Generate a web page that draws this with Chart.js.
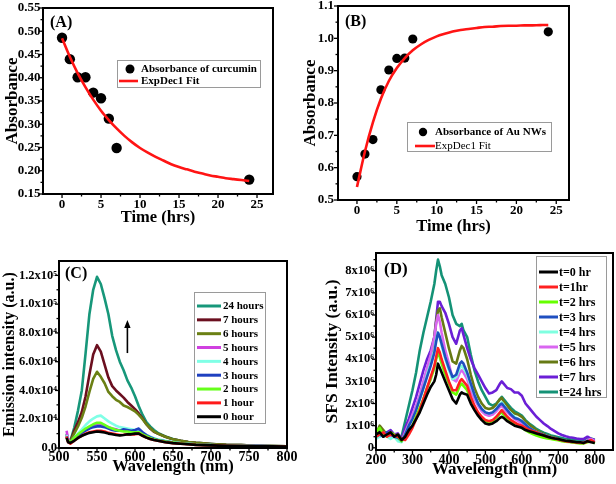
<!DOCTYPE html>
<html><head><meta charset="utf-8">
<script src="https://cdn.jsdelivr.net/npm/chart.js@4.4.1/dist/chart.umd.min.js"></script>
<style>
html,body{margin:0;padding:0;background:#fff;width:616px;height:484px;overflow:hidden;position:relative}
canvas{position:absolute}
</style></head><body>
<canvas id="cA"></canvas><canvas id="cB"></canvas><canvas id="cC"></canvas><canvas id="cD"></canvas>
<script>
// ---------------- DATA ----------------
// Panel A / B : absorbance vs time
const hrsPoints   = [0, 1, 2, 3, 4, 5, 6, 7, 24];
const curcuminAbs = [0.486, 0.440, 0.401, 0.401, 0.368, 0.356, 0.312, 0.249, 0.181];
const auNWsAbs    = [0.572, 0.642, 0.687, 0.841, 0.902, 0.938, 0.939, 0.998, 1.020];
const fitHrs      = [0,1,2,3,4,5,6,7,8,9,10,11,12,13,14,15,16,17,18,19,20,21,22,23,24];
const curcuminFit = [0.485,0.445,0.410,0.380,0.353,0.329,0.309,0.291,0.275,0.261,0.249,0.239,0.230,0.222,0.214,0.208,0.203,0.198,0.194,0.190,0.187,0.184,0.182,0.180,0.178];
const auNWsFit    = [0.540,0.650,0.740,0.813,0.868,0.908,0.939,0.963,0.981,0.995,1.006,1.014,1.021,1.026,1.029,1.032,1.035,1.036,1.038,1.039,1.039,1.040,1.040,1.041,1.041];

// Panel C : emission (units of 1e4)
const wavelengthC = [510,512,515,520,525,530,535,540,545,550,555,560,565,570,575,580,585,590,595,600,605,610,615,620,625,630,640,650,660,670,680,690,700,720,740,760,780,800];
const emission0h  = [0.7,0.4,0.35, 0.5,0.7,0.85,0.95,1.05,1.1,1.15,1.12,1.08,1.0,0.95,0.9,0.88,0.9,0.95,0.95,1.0,1.0,0.85,0.72,0.62,0.55,0.5, 0.4,0.34,0.3,0.26,0.22,0.2,0.18, 0.15,0.13,0.12,0.11,0.1];
const emission1h  = [0.8,0.4,0.3, 0.5,0.7,0.85,1.0,1.1,1.15,1.2,1.2,1.15,1.05,1.0,0.95,0.9,0.92,0.95,0.95,0.95,1.0,0.85,0.72,0.62,0.55,0.5, 0.4,0.34,0.3,0.26,0.22,0.2,0.18, 0.15,0.13,0.12,0.11,0.1];
const emission2h  = [0.7,0.5,0.4, 0.7,0.95,1.15,1.35,1.5,1.65,1.75,1.75,1.6,1.45,1.35,1.25,1.2,1.15,1.15,1.1,1.1,1.1,0.95,0.82,0.7,0.6,0.54, 0.45,0.38,0.32,0.28,0.24,0.22,0.2, 0.16,0.14,0.12,0.11,0.1];
const emission3h  = [0.8,0.5,0.4, 0.65,0.85,1.05,1.2,1.35,1.45,1.5,1.5,1.45,1.35,1.25,1.2,1.2,1.3,1.25,1.2,1.25,1.35,1.1,0.9,0.75,0.64,0.56, 0.46,0.38,0.32,0.28,0.24,0.22,0.2, 0.16,0.14,0.13,0.12,0.1];
const emission4h  = [0.9,0.5,0.4, 0.7,1.0,1.3,1.6,1.85,2.05,2.2,2.25,2.05,1.85,1.7,1.55,1.45,1.4,1.35,1.3,1.25,1.25,1.05,0.9,0.78,0.68,0.6, 0.5,0.42,0.35,0.3,0.26,0.23,0.2, 0.17,0.15,0.14,0.12,0.1];
const emission5h  = [1.2,0.6,0.4, 0.6,0.85,1.05,1.25,1.4,1.5,1.6,1.65,1.55,1.45,1.35,1.3,1.2,1.2,1.25,1.2,1.15,1.2,1.0,0.85,0.72,0.62,0.55, 0.45,0.38,0.32,0.28,0.25,0.22,0.2, 0.17,0.15,0.13,0.12,0.1];
const emission6h  = [0.8,0.5,0.45, 1.0,1.5,2.1,2.9,3.9,4.8,5.3,4.95,4.5,3.9,3.6,3.35,3.2,2.95,2.85,2.7,2.55,2.3,2.0,1.65,1.38,1.15,1.0, 0.78,0.6,0.5,0.42,0.36,0.32,0.28, 0.22,0.2,0.16,0.14,0.12];
const emission7h  = [0.9,0.5,0.45, 1.2,1.8,2.5,3.6,5.1,6.5,7.15,6.7,5.8,4.9,4.3,4.0,3.75,3.5,3.2,2.95,2.7,2.4,2.05,1.65,1.35,1.12,1.0, 0.78,0.6,0.5,0.42,0.36,0.32,0.28, 0.22,0.2,0.16,0.14,0.12];
const emission24h = [1.0,0.6,0.5, 1.4,2.6,4.0,6.6,9.3,11.0,11.9,11.4,10.4,9.3,7.8,6.8,6.0,5.4,4.7,4.2,3.6,2.9,2.3,1.8,1.5,1.25,1.05, 0.8,0.62,0.5,0.42,0.36,0.32,0.28, 0.22,0.2,0.16,0.14,0.12];
const labelsC = ['0 hour','1 hour','2 hours','3 hours','4 hours','5 hours','6 hours','7 hours','24 hours'];
const cYTicks = [0,2,4,6,8,10,12];
const cYLabels = ['0.0','2.0x10\u2074','4.0x10\u2074','6.0x10\u2074','8.0x10\u2074','1.0x10\u2075','1.2x10\u2075'];
const cXTicks = [500,550,600,650,700,750,800];

// Panel D : SFS intensity (units of 1e6)
const wavelengthD = [200,210,220,230,240,250,260,270,280,290,300,310,320,330,340,350,360, 365,370,375,380, 390,400,410,420,430, 435,440, 450,460,470,480,490,500,510,520,530,540, 545, 550,560,570,580,590,600,610,620,630,640,650,660,670,680,690,700,710,720,730,740,750,760,770,780,790,800];
const sfs0  = [0.6,0.7,0.5,0.6,0.7,0.5,0.6,0.35,0.5,0.8,1.0,1.3,1.6,2.0,2.4,2.75,3.0, 3.3,3.8,3.6,3.4, 3.0,2.6,2.2,2.0,2.4, 2.5,2.45, 2.4,2.0,1.7,1.45,1.25,1.1,1.05,1.1,1.2,1.35, 1.4, 1.35,1.2,1.1,1.0,0.95,0.9,0.8,0.75,0.7,0.65,0.6,0.55,0.5,0.45,0.42,0.4,0.35,0.32,0.3,0.28,0.25,0.25,0.22,0.3,0.25,0.22];
const sfs1  = [0.5,0.6,0.7,0.5,0.6,0.55,0.5,0.4,0.35,0.6,0.9,1.3,1.7,2.2,2.7,3.2,3.7, 4.1,4.5,4.3,4.0, 3.5,3.0,2.6,2.6,3.0, 3.1,3.0, 2.8,2.3,1.9,1.6,1.4,1.25,1.2,1.25,1.4,1.6, 1.7, 1.6,1.4,1.25,1.15,1.05,1.0,0.9,0.8,0.75,0.7,0.62,0.56,0.5,0.45,0.42,0.38,0.34,0.3,0.28,0.26,0.24,0.23,0.22,0.28,0.35,0.25];
const sfs2  = [0.7,0.9,0.6,0.5,0.7,0.6,0.5,0.3,0.45,0.7,1.0,1.4,1.8,2.2,2.7,3.1,3.6, 4.0,4.3,4.1,3.8, 3.3,2.9,2.5,2.4,2.8, 2.9,2.8, 2.6,2.2,1.8,1.5,1.3,1.2,1.15,1.2,1.35,1.55, 1.6, 1.5,1.3,1.2,1.1,1.0,0.9,0.8,0.7,0.62,0.55,0.5,0.45,0.42,0.4,0.36,0.34,0.3,0.28,0.26,0.24,0.22,0.2,0.2,0.25,0.3,0.2];
const sfs3  = [0.5,0.6,0.5,0.7,0.6,0.5,0.45,0.3,0.6,1.0,1.3,1.7,2.2,2.7,3.2,3.7,4.3, 4.8,5.2,5.0,4.7, 4.1,3.6,3.2,3.3,3.8, 3.9,3.8, 3.4,2.9,2.4,2.0,1.75,1.6,1.55,1.6,1.75,1.95, 2.0, 1.9,1.7,1.5,1.35,1.3,1.2,1.05,0.9,0.8,0.72,0.65,0.58,0.52,0.46,0.42,0.38,0.34,0.3,0.28,0.26,0.25,0.24,0.23,0.3,0.3,0.25];
const sfs4  = [0.4,0.5,0.6,0.5,0.4,0.5,0.3,0.25,0.6,1.0,1.3,1.7,2.2,2.7,3.3,3.8,4.4, 4.9,5.2,5.0,4.6, 4.0,3.5,3.1,3.2,3.6, 3.7,3.6, 3.3,2.8,2.4,2.0,1.75,1.6,1.55,1.6,1.75,2.0, 2.05, 1.95,1.7,1.55,1.4,1.3,1.2,1.05,0.9,0.8,0.72,0.65,0.58,0.52,0.46,0.42,0.38,0.34,0.3,0.28,0.26,0.24,0.24,0.22,0.28,0.3,0.24];
const sfs5  = [0.6,0.5,0.7,0.6,0.5,0.6,0.5,0.3,0.7,1.1,1.5,1.9,2.4,3.0,3.6,4.2,5.0, 5.6,6.0,5.7,5.2, 4.4,3.8,3.1,3.0,3.4, 3.5,3.4, 3.1,2.6,2.2,1.9,1.65,1.5,1.45,1.5,1.65,1.85, 1.9, 1.8,1.6,1.45,1.3,1.2,1.1,0.95,0.85,0.75,0.68,0.6,0.55,0.5,0.45,0.4,0.36,0.32,0.3,0.28,0.25,0.24,0.22,0.22,0.35,0.4,0.3];
const sfs6  = [0.6,1.0,0.8,0.6,0.7,0.5,0.6,0.35,0.7,1.1,1.4,1.8,2.3,2.9,3.5,4.1,5.0, 5.7,6.2,6.3,5.9, 5.2,4.5,3.9,3.8,4.4, 4.6,4.5, 4.0,3.3,2.7,2.3,2.0,1.8,1.75,1.8,1.95,2.2, 2.25, 2.1,1.9,1.7,1.55,1.5,1.4,1.2,1.05,0.92,0.8,0.7,0.62,0.55,0.5,0.45,0.4,0.36,0.32,0.3,0.27,0.25,0.24,0.23,0.3,0.28,0.25];
const sfs7  = [0.7,0.8,0.6,0.7,0.8,0.6,0.65,0.4,0.9,1.3,1.8,2.3,2.9,3.5,4.0,4.4,5.0, 5.8,6.6,6.6,6.4, 6.1,5.6,5.0,4.7,5.3, 5.4,5.1, 4.5,4.0,3.6,3.3,3.0,2.7,2.45,2.5,2.6,2.9, 3.0, 2.9,2.7,2.65,2.5,2.5,2.35,2.0,1.8,1.6,1.4,1.25,1.1,0.98,0.85,0.75,0.65,0.58,0.52,0.48,0.45,0.42,0.4,0.4,0.5,0.4,0.35];
const sfs24 = [0.5,0.6,0.5,0.6,0.5,0.6,0.55,0.5,1.2,1.9,2.6,3.4,4.4,5.2,5.9,6.6,7.4, 8.0,8.5,8.2,7.8, 7.4,6.8,6.0,5.6,5.5, 5.6,5.3, 5.0,4.2,3.5,3.0,2.6,2.3,2.0,1.9,2.0,2.2, 2.3, 2.2,2.0,1.8,1.65,1.55,1.45,1.25,1.1,0.98,0.85,0.76,0.68,0.62,0.56,0.52,0.48,0.44,0.4,0.38,0.36,0.35,0.33,0.32,0.4,0.42,0.35];
const labelsD = ['t=0 hr','t=1hr','t=2 hrs','t=3 hrs','t=4 hrs','t=5 hrs','t=6 hrs','t=7 hrs','t=24 hrs'];
const dYTicks = [0,1,2,3,4,5,6,7,8];
const dYLabels = ['0','1x10\u2076','2x10\u2076','3x10\u2076','4x10\u2076','5x10\u2076','6x10\u2076','7x10\u2076','8x10\u2076'];
const dXTicks = [200,300,400,500,600,700,800];

const abXTicks = [0,5,10,15,20,25];
const aYTicks = [0.15,0.20,0.25,0.30,0.35,0.40,0.45,0.50,0.55];
const bYTicks = [0.5,0.6,0.7,0.8,0.9,1.0,1.1];

// ---------------- STYLE / HELPERS ----------------
const SERIF = "'Liberation Serif','Times New Roman',serif";
const colorsC = ['#000000','#ff1a1a','#66ff1a','#1f40c0','#80ffe6','#d040e0','#6b8014','#6b0f1f','#17977a'];
const colorsD = ['#000000','#ff2020','#66ff00','#1f4fc0','#7fffe0','#d966f0','#667a14','#6b1fd6','#149276'];
const pts = (xs, ys) => xs.map((x, i) => ({x: x, y: ys[i]}));

const deco = {
  id: 'deco',
  afterDraw(chart, args, o) {
    const ctx = chart.ctx, a = chart.chartArea, xs = chart.scales.x, ys = chart.scales.y;
    const ox = o.origin[0], oy = o.origin[1];
    const seg = (x1, y1, x2, y2) => { ctx.beginPath(); ctx.moveTo(x1, y1); ctx.lineTo(x2, y2); ctx.stroke(); };
    ctx.save();
    ctx.strokeStyle = '#000'; ctx.lineWidth = 1.3;
    o.xMajor.forEach(v => { const p = xs.getPixelForValue(v); seg(p, a.bottom, p, a.bottom + 4); });
    o.xMinor.forEach(v => { const p = xs.getPixelForValue(v); seg(p, a.bottom, p, a.bottom + 2.5); });
    o.yMajor.forEach(v => { const p = ys.getPixelForValue(v); seg(a.left, p, a.left - 4, p); });
    o.yMinor.forEach(v => { const p = ys.getPixelForValue(v); seg(a.left, p, a.left - 2.5, p); });
    ctx.lineWidth = 2;
    ctx.strokeRect(a.left, a.top, a.right - a.left, a.bottom - a.top);
    // panel tag
    ctx.fillStyle = '#000'; ctx.textAlign = 'left'; ctx.textBaseline = 'middle';
    ctx.font = 'bold ' + o.tagSize + 'px ' + SERIF;
    ctx.fillText(o.tag, o.tagPos[0] - ox, o.tagPos[1] - oy);
    // legend
    const L = o.legend;
    ctx.lineWidth = 1; ctx.strokeStyle = '#9a9a9a';
    ctx.strokeRect(L.box[0] - ox + 0.5, L.box[1] - oy + 0.5, L.box[2] - L.box[0], L.box[3] - L.box[1]);
    L.items.forEach((it, i) => {
      const ds = chart.data.datasets[it.ds];
      const y = L.rowY0 + i * L.rowStep - oy;
      if (it.kind === 'dot') {
        ctx.fillStyle = ds.backgroundColor; ctx.beginPath();
        ctx.arc(L.dotX - ox, y, L.dotR, 0, Math.PI * 2); ctx.fill();
      } else {
        ctx.strokeStyle = ds.borderColor; ctx.lineWidth = L.lineW;
        seg(L.line[0] - ox, y, L.line[1] - ox, y);
      }
      ctx.fillStyle = '#000';
      ctx.font = (it.bold ? 'bold ' : '') + L.font + 'px ' + SERIF;
      ctx.fillText(ds.label, L.textX - ox, y + 0.5);
    });
    // arrow
    if (o.arrow) {
      const ax = xs.getPixelForValue(o.arrow.x), y1 = ys.getPixelForValue(o.arrow.y1), y2 = ys.getPixelForValue(o.arrow.y2);
      ctx.strokeStyle = '#000'; ctx.fillStyle = '#000'; ctx.lineWidth = 1.6;
      seg(ax, y1, ax, y2 + 6);
      ctx.beginPath(); ctx.moveTo(ax, y2); ctx.lineTo(ax - 3.2, y2 + 8); ctx.lineTo(ax + 3.2, y2 + 8); ctx.closePath(); ctx.fill();
    }
    ctx.restore();
  }
};

function axis(ax, isY, size) {
  return {
    type: 'linear', min: ax.min, max: ax.max,
    afterBuildTicks: s => { s.ticks = ax.ticks.map(v => ({value: v})); },
    afterFit: s => { if (isY) s.width = size; else s.height = size; },
    grid: {display: false, drawTicks: false, tickLength: 0}, border: {display: false},
    ticks: {autoSkip: false, maxRotation: 0, minRotation: 0, padding: ax.pad, color: '#000',
            font: {family: SERIF, weight: 'bold', size: ax.fs}, callback: (v, i) => ax.labels[i]},
    title: {display: true, text: ax.title, color: '#000',
            font: {family: SERIF, weight: 'bold', size: ax.tfs},
            padding: isY ? {top: ax.tpad, bottom: 0} : {top: 0, bottom: ax.tpad}}
  };
}

function panel(id, box, area, datasets, xa, ya, decoOpts) {
  const cv = document.getElementById(id);
  cv.width = box.w; cv.height = box.h;
  cv.style.left = box.x + 'px'; cv.style.top = box.y + 'px';
  const yW = area.L - box.x, padTop = area.T - box.y, padRight = box.x + box.w - area.R, xH = box.y + box.h - area.B;
  decoOpts.origin = [box.x, box.y];
  return new Chart(cv, {
    type: 'scatter',
    data: {datasets: datasets},
    options: {
      responsive: false, animation: false, devicePixelRatio: 1,
      layout: {padding: {left: 0, top: padTop, right: padRight, bottom: 0}},
      plugins: {legend: {display: false}, tooltip: {enabled: false}, deco: decoOpts},
      scales: {x: axis(xa, false, xH), y: axis(ya, true, yW)}
    },
    plugins: [deco]
  });
}

const fitStyle = {showLine: true, borderColor: '#ff1414', backgroundColor: '#ff1414', borderWidth: 2.6, pointRadius: 0, tension: 0.3};

// ---------------- PANEL A ----------------
panel('cA', {x: 0, y: -10, w: 300, h: 250}, {L: 43, T: 8, R: 273, B: 194},
  [
    Object.assign({label: 'ExpDec1 Fit', data: pts(fitHrs, curcuminFit)}, fitStyle),
    {label: 'Absorbance of curcumin', data: pts(hrsPoints, curcuminAbs), backgroundColor: '#000', borderColor: '#000', pointRadius: 5.2, borderWidth: 0, showLine: false}
  ],
  {min: -2.44, max: 27.05, ticks: abXTicks, labels: ['0','5','10','15','20','25'], fs: 13, pad: 2.5, title: 'Time (hrs)', tfs: 16.5, tpad: 12},
  {min: 0.15, max: 0.55, ticks: aYTicks, labels: ['0.15','0.20','0.25','0.30','0.35','0.40','0.45','0.50','0.55'], fs: 13, pad: 2.5, title: 'Absorbance', tfs: 17, tpad: 2},
  {xMajor: abXTicks, xMinor: [2.5,7.5,12.5,17.5,22.5], yMajor: aYTicks, yMinor: [0.175,0.225,0.275,0.325,0.375,0.425,0.475,0.525],
   tag: '(A)', tagSize: 16, tagPos: [50, 23],
   legend: {box: [117, 60, 260, 87], rowY0: 69, rowStep: 12, dotX: 130, dotR: 4.5, line: [119, 138], lineW: 2.6, textX: 141, font: 11,
            items: [{ds: 1, kind: 'dot', bold: true}, {ds: 0, kind: 'line', bold: true}]}}
);

// ---------------- PANEL B ----------------
panel('cB', {x: 300, y: -10, w: 316, h: 250}, {L: 338, T: 6, R: 569, B: 200},
  [
    Object.assign({label: 'ExpDec1 Fit', data: pts(fitHrs, auNWsFit)}, fitStyle),
    {label: 'Absorbance of Au NWs', data: pts(hrsPoints, auNWsAbs), backgroundColor: '#000', borderColor: '#000', pointRadius: 4.6, borderWidth: 0, showLine: false}
  ],
  {min: -2.38, max: 26.6, ticks: abXTicks, labels: ['0','5','10','15','20','25'], fs: 13, pad: 3, title: 'Time (hrs)', tfs: 16.5, tpad: 3},
  {min: 0.5, max: 1.1, ticks: bYTicks, labels: ['0.5','0.6','0.7','0.8','0.9','1.0','1.1'], fs: 13, pad: 4, title: 'Absorbance', tfs: 17, tpad: 0},
  {xMajor: abXTicks, xMinor: [2.5,7.5,12.5,17.5,22.5], yMajor: bYTicks, yMinor: [0.55,0.65,0.75,0.85,0.95,1.05],
   tag: '(B)', tagSize: 16, tagPos: [345, 22],
   legend: {box: [407, 122, 551, 151], rowY0: 132, rowStep: 14, dotX: 423, dotR: 4.2, line: [415, 435], lineW: 2.6, textX: 435, font: 11,
            items: [{ds: 1, kind: 'dot', bold: true}, {ds: 0, kind: 'line', bold: false}]}}
);

// ---------------- PANEL C ----------------
const emissionC = [emission0h, emission1h, emission2h, emission3h, emission4h, emission5h, emission6h, emission7h, emission24h];
panel('cC', {x: 0, y: 240, w: 300, h: 244}, {L: 59, T: 261, R: 287, B: 448},
  emissionC.map((vals, i) => ({label: labelsC[i], data: pts(wavelengthC, vals), showLine: true, borderColor: colorsC[i], backgroundColor: colorsC[i],
    borderWidth: 2.6, pointRadius: 0, tension: 0, borderJoinStyle: 'round'})),
  {min: 500, max: 800, ticks: cXTicks, labels: ['500','550','600','650','700','750','800'], fs: 14, pad: 0.5, title: 'Wavelength (nm)', tfs: 16.5, tpad: 7},
  {min: 0, max: 13, ticks: cYTicks, labels: cYLabels, fs: 12.5, pad: 2, title: 'Emission intensity (a.u.)', tfs: 16, tpad: 0},
  {xMajor: cXTicks, xMinor: [525,575,625,675,725,775], yMajor: cYTicks, yMinor: [1,3,5,7,9,11],
   tag: '(C)', tagSize: 16, tagPos: [65, 274],
   arrow: {x: 590, y1: 6.6, y2: 8.9},
   legend: {box: [194, 292, 265, 423], rowY0: 306, rowStep: 13.84, line: [197, 221], lineW: 3, textX: 223, font: 11,
            items: [8,7,6,5,4,3,2,1,0].map(d => ({ds: d, kind: 'line', bold: true}))}}
);

// ---------------- PANEL D ----------------
const sfsD = [sfs0, sfs1, sfs2, sfs3, sfs4, sfs5, sfs6, sfs7, sfs24];
panel('cD', {x: 300, y: 240, w: 316, h: 244}, {L: 376, T: 253, R: 613, B: 450},
  sfsD.map((vals, i) => ({label: labelsD[i], data: pts(wavelengthD, vals), showLine: true, borderColor: colorsD[i], backgroundColor: colorsD[i],
    borderWidth: 2.6, pointRadius: 0, tension: 0, borderJoinStyle: 'round'})),
  {min: 200, max: 850, ticks: dXTicks, labels: ['200','300','400','500','600','700','800'], fs: 14, pad: 1.5, title: 'Wavelength (nm)', tfs: 17, tpad: 4},
  {min: -0.1, max: 8.8, ticks: dYTicks, labels: dYLabels, fs: 12.5, pad: 2, title: 'SFS Intensity (a.u.)', tfs: 17.5, tpad: 22},
  {xMajor: dXTicks, xMinor: [250,350,450,550,650,750], yMajor: dYTicks, yMinor: [0.5,1.5,2.5,3.5,4.5,5.5,6.5,7.5,8.5],
   tag: '(D)', tagSize: 17, tagPos: [384, 270],
   legend: {box: [536, 256, 606, 397], rowY0: 272, rowStep: 15, line: [539, 558], lineW: 3, textX: 559, font: 12,
            items: [0,1,2,3,4,5,6,7,8].map(d => ({ds: d, kind: 'line', bold: true}))}}
);
</script>
</body></html>
